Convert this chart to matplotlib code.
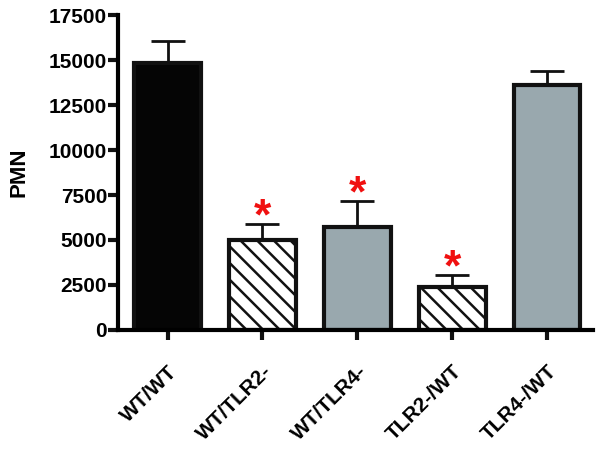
import numpy as np
import matplotlib
matplotlib.use("Agg")
import matplotlib.pyplot as plt

plt.rcParams['font.family'] = ['Liberation Sans', 'DejaVu Sans']
plt.rcParams['hatch.linewidth'] = 1.8

groups = ['WT/WT', 'WT/TLR2-', 'WT/TLR4-', 'TLR2-/WT', 'TLR4-/WT']
means = [14850, 5000, 5700, 2400, 13600]
errors = [1200, 880, 1480, 660, 780]
colors = ['#050505', 'white', '#99a8ae', 'white', '#99a8ae']
hatches = ['', '\\\\', '', '\\\\', '']
significant = [False, True, True, True, False]

fig = plt.figure(figsize=(6, 4.57), dpi=100)
ax = fig.add_axes([0.197, 0.278, 0.791, 0.689])

x = np.arange(len(groups))
for i in range(len(groups)):
    ax.bar(x[i], means[i], width=0.7, color=colors[i], edgecolor='#111111',
           linewidth=3, hatch=hatches[i], zorder=2)
    ax.errorbar(x[i], means[i] + errors[i] / 2, yerr=errors[i] / 2, fmt='none',
                ecolor='#111111', elinewidth=2, capsize=12, capthick=2, zorder=1)
    if significant[i]:
        ax.annotate('*', (x[i], means[i] + errors[i]), xytext=(0, -4),
                    textcoords='offset points', color='#f01010',
                    fontsize=32, fontweight='bold', ha='center', va='baseline')

ax.set_xlim(-0.52, 4.48)
ax.set_ylim(0, 17500)
ax.set_yticks(np.arange(0, 17501, 2500))
ax.set_xticks(x)
ax.set_xticklabels(groups, rotation=45, ha='right', rotation_mode='anchor',
                   fontsize=15, fontweight='bold')
for lbl in ax.get_yticklabels():
    lbl.set_fontweight('bold')
    lbl.set_fontsize(15)
ax.set_ylabel('PMN', fontsize=16, fontweight='bold', labelpad=14)

ax.spines['top'].set_visible(False)
ax.spines['right'].set_visible(False)
ax.spines['left'].set_linewidth(3)
ax.spines['bottom'].set_linewidth(3)
ax.tick_params(axis='both', width=3, length=7, color='#111111', pad=1)
ax.tick_params(axis='x', pad=16)

fig.savefig('out.png', dpi=100)
